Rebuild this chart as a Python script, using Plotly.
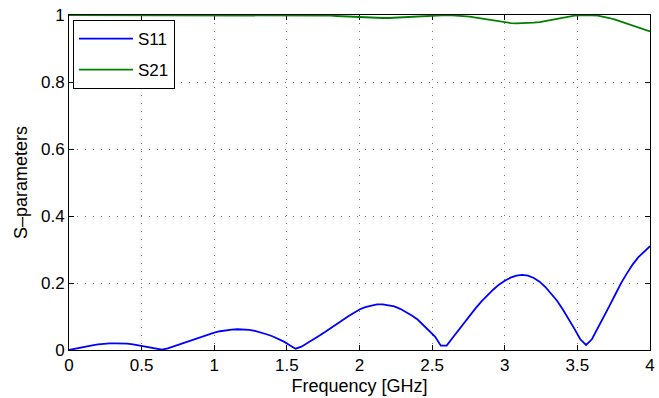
import numpy as np
import plotly.graph_objects as go

# Frequency sweep, 0 to 4 GHz in 40 MHz steps
freq = np.round(np.linspace(0.0, 4.0, 101), 2)

# |S11| magnitude at each frequency point
s11 = [
    0.000, 0.004, 0.008, 0.011, 0.014, 0.017, 0.019, 0.020, 0.020, 0.020,
    0.019, 0.017, 0.014, 0.011, 0.007, 0.004, 0.001, 0.005, 0.011, 0.017,
    0.023, 0.029, 0.035, 0.041, 0.047, 0.052, 0.056, 0.059, 0.061, 0.062,
    0.062, 0.060, 0.057, 0.053, 0.047, 0.041, 0.034, 0.025, 0.014, 0.004,
    0.010, 0.020, 0.031, 0.042, 0.053, 0.064, 0.075, 0.088, 0.100, 0.111,
    0.121, 0.128, 0.133, 0.136, 0.136, 0.134, 0.130, 0.123, 0.114, 0.103,
    0.091, 0.075, 0.058, 0.040, 0.013, 0.013, 0.036, 0.059, 0.082, 0.104,
    0.125, 0.145, 0.163, 0.180, 0.195, 0.207, 0.216, 0.222, 0.224, 0.222,
    0.215, 0.204, 0.188, 0.169, 0.147, 0.121, 0.093, 0.063, 0.032, 0.015,
    0.032, 0.064, 0.097, 0.131, 0.165, 0.199, 0.228, 0.255, 0.277, 0.295,
    0.310,
]

# |S21| magnitude at each frequency point
s21 = [
    1.000, 1.000, 1.000, 1.000, 1.000, 1.000, 1.000, 1.000, 1.000, 1.000,
    1.000, 1.000, 1.000, 1.000, 1.000, 1.000, 1.000, 1.000, 1.000, 1.000,
    1.000, 1.000, 0.999, 0.999, 0.999, 0.999, 0.998, 0.998, 0.998, 0.998,
    0.998, 0.998, 0.998, 0.999, 0.999, 0.999, 0.999, 1.000, 1.000, 1.000,
    1.000, 1.000, 1.000, 0.999, 0.999, 0.998, 0.997, 0.996, 0.995, 0.994,
    0.993, 0.992, 0.991, 0.991, 0.991, 0.991, 0.992, 0.992, 0.993, 0.995,
    0.996, 0.997, 0.998, 0.999, 1.000, 1.000, 0.999, 0.998, 0.997, 0.995,
    0.992, 0.989, 0.987, 0.984, 0.981, 0.978, 0.976, 0.975, 0.975, 0.975,
    0.977, 0.979, 0.982, 0.986, 0.989, 0.993, 0.996, 0.998, 0.999, 1.000,
    0.999, 0.998, 0.995, 0.991, 0.986, 0.980, 0.974, 0.967, 0.961, 0.955,
    0.951,
]

x_ticks = [0, 0.5, 1, 1.5, 2, 2.5, 3, 3.5, 4]
x_tick_text = ["0", "0.5", "1", "1.5", "2", "2.5", "3", "3.5", "4"]
y_ticks = [0, 0.2, 0.4, 0.6, 0.8, 1]
y_tick_text = ["0", "0.2", "0.4", "0.6", "0.8", "1"]

FONT = "Liberation Sans, Arial, Helvetica, sans-serif"

fig = go.Figure()
fig.add_trace(go.Scatter(x=freq, y=s11, mode="lines", name="S11",
                         legendgroup="a",
                         line=dict(color="#0000FF", width=1.8)))
fig.add_trace(go.Scatter(x=freq, y=s21, mode="lines", name="S21",
                         legendgroup="b",
                         line=dict(color="#008000", width=1.8)))

axis_common = dict(
    showline=True, linecolor="black", linewidth=1, mirror="ticks",
    ticks="inside", ticklen=5, tickcolor="black", tickwidth=1,
    showgrid=True, gridcolor="rgba(0,0,0,0.55)", gridwidth=1,
    griddash="1px,7px", zeroline=False,
    tickfont=dict(family=FONT, size=17, color="black"),
    ticklabeloverflow="allow",
    layer="below traces",
)

fig.update_xaxes(range=[0, 4], tickvals=x_ticks, ticktext=x_tick_text,
                 title=dict(text="Frequency [GHz]", standoff=4,
                            font=dict(family=FONT, size=18, color="black")),
                 **axis_common)
fig.update_yaxes(range=[0, 1], tickvals=y_ticks, ticktext=y_tick_text,
                 title=dict(text="S\u2013parameters", standoff=8,
                            font=dict(family=FONT, size=18, color="black")),
                 **axis_common)

fig.update_layout(
    width=659, height=398,
    margin=dict(l=69, r=4, t=15, b=48),
    paper_bgcolor="white", plot_bgcolor="white",
    font=dict(family=FONT, size=17, color="black"),
    legend=dict(x=0.0068, y=0.985, xanchor="left", yanchor="top",
                bgcolor="white", bordercolor="black", borderwidth=1,
                font=dict(family=FONT, size=17, color="black"),
                tracegroupgap=6, itemwidth=54),
    showlegend=True,
)

fig.write_html("out.html")
